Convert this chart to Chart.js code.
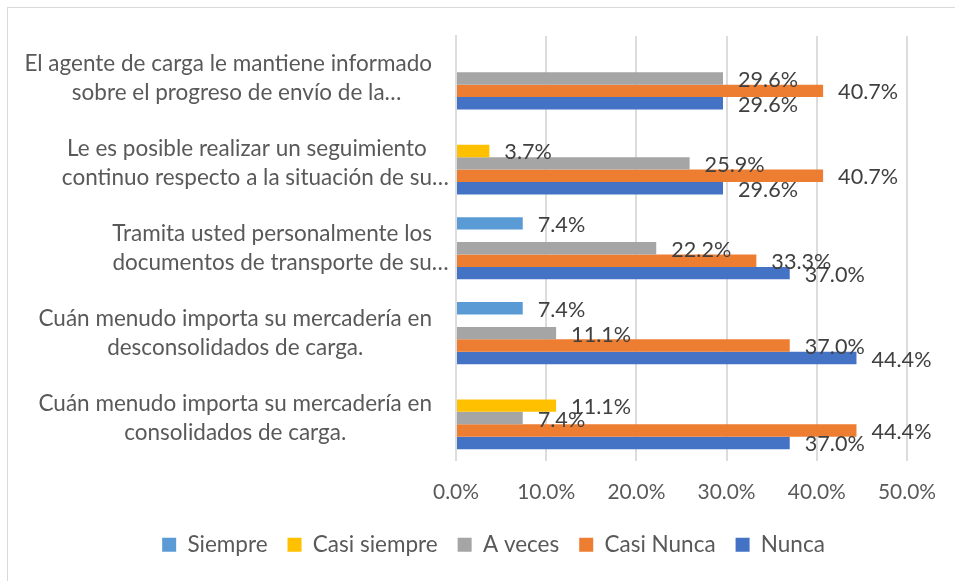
<!DOCTYPE html>
<html>
<head>
<meta charset="utf-8">
<script src="https://cdn.jsdelivr.net/npm/chart.js@4.4.1/dist/chart.umd.min.js"></script>
<style>
  html, body { margin: 0; padding: 0; background: #ffffff; }
  canvas { display: block; }
</style>
</head>
<body>
<canvas id="c" width="955" height="581"></canvas>
<script>
// ---- Data ----
const categories = [
  ["El agente de carga le mantiene informado", "sobre el progreso de envío de la…"],
  ["Le es posible realizar un seguimiento", "continuo respecto a la situación de su…"],
  ["Tramita usted personalmente los", "documentos de transporte de su…"],
  ["Cuán menudo importa su mercadería en", "desconsolidados de carga."],
  ["Cuán menudo importa su mercadería en", "consolidados de carga."]
];
const seriesNames = ["Siempre", "Casi siempre", "A veces", "Casi Nunca", "Nunca"];
const siempre     = [null, null, 7.4, 7.4, null];
const casiSiempre = [null, 3.7, null, null, 11.1];
const aVeces      = [29.6, 25.9, 22.2, 11.1, 7.4];
const casiNunca   = [40.7, 40.7, 33.3, 37.0, 44.4];
const nunca       = [29.6, 29.6, 37.0, 44.4, 37.0];
const xTickValues = [0, 10, 20, 30, 40, 50];

// ---- Styles ----
const colors = ["#5B9BD5", "#FFC000", "#A5A5A5", "#ED7D31", "#4472C4"];
const FAMILY = "Lato";
const mctx = document.createElement("canvas").getContext("2d");
function fitSize(text, target) {
  mctx.font = "100px " + FAMILY;
  return Math.round(100 * target / mctx.measureText(text).width * 10) / 10;
}
const catSize = fitSize("El agente de carga le mantiene informado", 407);
const tickSize = fitSize("10.0%", 58);
const valSize = fitSize("40.7%", 60);
const legSize = fitSize("Siempre", 80);

const AXIS_LEFT = 456;      // plot left
const CAT_RIGHT = 432;      // right edge of category label blocks
const PAD_LEFT = 78;

const bgPlugin = {
  id: "bg",
  beforeDraw(chart) {
    const ctx = chart.ctx;
    ctx.save();
    ctx.fillStyle = "#ffffff";
    ctx.fillRect(0, 0, chart.width, chart.height);
    ctx.strokeStyle = "#d9d9d9";
    ctx.lineWidth = 1;
    ctx.strokeRect(7.5, 7.5, chart.width + 20, chart.height + 20);
    ctx.restore();
  }
};

const labelPlugin = {
  id: "labels",
  afterDatasetsDraw(chart) {
    const ctx = chart.ctx;
    ctx.save();
    // value labels
    ctx.font = valSize + "px " + FAMILY;
    ctx.fillStyle = "#404040";
    ctx.textAlign = "left";
    ctx.textBaseline = "alphabetic";
    chart.data.datasets.forEach((ds, di) => {
      const meta = chart.getDatasetMeta(di);
      meta.data.forEach((el, i) => {
        const v = ds.data[i];
        if (v === null || v === undefined) return;
        ctx.fillText(v.toFixed(1) + "%", el.x + 15, el.y + 8.5);
      });
    });
    // category labels
    const ys = chart.scales.y;
    ctx.font = catSize + "px " + FAMILY;
    ctx.fillStyle = "#595959";
    categories.forEach((lines, i) => {
      const cy = ys.getPixelForTick(i);
      const eff = lines.map(t => ctx.measureText(t.replace(/…$/, "")).width);
      const bw = Math.max(...eff);
      const cx = CAT_RIGHT - bw / 2;
      lines.forEach((t, k) => {
        ctx.fillText(t, cx - eff[k] / 2, cy - 7 + k * 29);
      });
    });
    ctx.restore();
  }
};

const seriesData = [siempre, casiSiempre, aVeces, casiNunca, nunca];

new Chart(document.getElementById("c"), {
  type: "bar",
  data: {
    labels: categories,
    datasets: seriesNames.map((n, i) => ({
      label: n,
      data: seriesData[i],
      backgroundColor: colors[i],
      borderWidth: 0,
      categoryPercentage: 0.733,
      barPercentage: 1.0
    }))
  },
  options: {
    indexAxis: "y",
    responsive: false,
    animation: false,
    devicePixelRatio: 1,
    layout: { padding: { left: PAD_LEFT, right: 46, top: 36, bottom: 15 } },
    scales: {
      x: {
        min: 0, max: 50,
        afterBuildTicks: s => { s.ticks = xTickValues.map(v => ({ value: v })); },
        ticks: {
          callback: v => Number(v).toFixed(1) + "%",
          color: "#595959",
          font: { family: FAMILY, size: tickSize },
          padding: 19,
          maxRotation: 0
        },
        grid: { color: "#dcdcdc", lineWidth: 2, drawTicks: false },
        border: { display: false },
        afterFit: s => { s.height = 53; }
      },
      y: {
        ticks: { display: false },
        grid: { display: false, drawTicks: false },
        border: { color: "#dcdcdc", width: 2 },
        afterFit: s => { s.width = AXIS_LEFT - PAD_LEFT; }
      }
    },
    plugins: {
      legend: {
        position: "bottom",
        labels: {
          boxWidth: 14,
          boxHeight: 14,
          padding: 20,
          color: "#595959",
          font: { family: FAMILY, size: legSize }
        }
      },
      tooltip: { enabled: false }
    }
  },
  plugins: [bgPlugin, labelPlugin]
});
</script>
</body>
</html>
